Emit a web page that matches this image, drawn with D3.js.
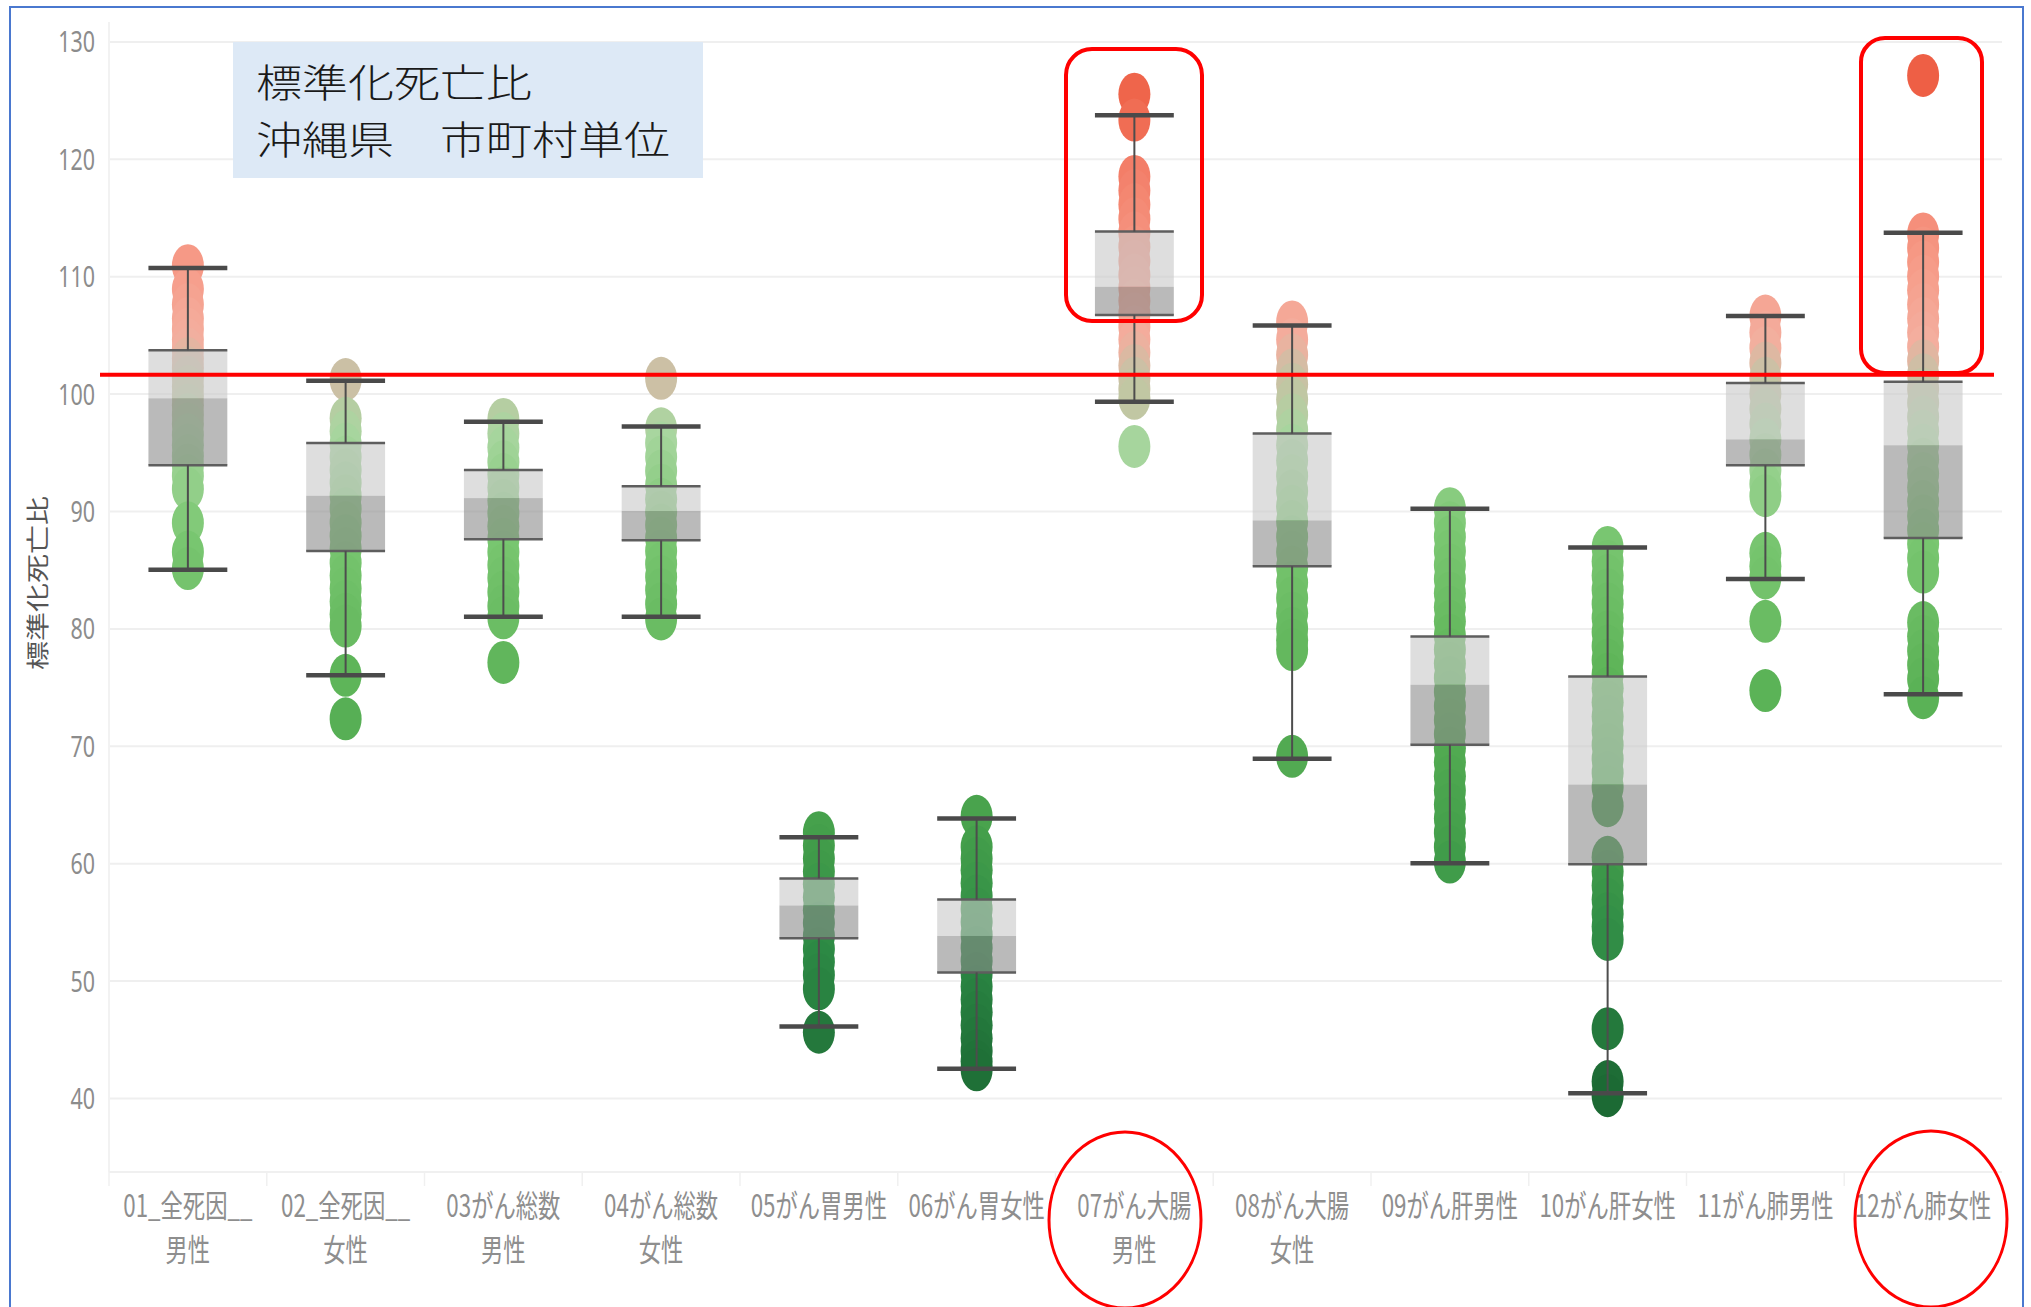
<!DOCTYPE html>
<html>
<head>
<meta charset="utf-8">
<script src="https://cdn.jsdelivr.net/npm/d3@7"></script>
<style>
  body { margin: 0; background: #fff; }
  svg { display: block; }
</style>
</head>
<body>
<svg id="chart" width="2031" height="1307"></svg>
<script>
// categories (x axis), label lines as wrapped in the picture
const categories = ["01_全死因__男性", "02_全死因__女性", "03がん総数男性", "04がん総数女性",
  "05がん胃男性", "06がん胃女性", "07がん大腸男性", "08がん大腸女性",
  "09がん肝男性", "10がん肝女性", "11がん肺男性", "12がん肺女性"];
const labelLines = [["01_全死因__", "男性"], ["02_全死因__", "女性"], ["03がん総数", "男性"], ["04がん総数", "女性"],
  ["05がん胃男性"], ["06がん胃女性"], ["07がん大腸", "男性"], ["08がん大腸", "女性"],
  ["09がん肝男性"], ["10がん肝女性"], ["11がん肺男性"], ["12がん肺女性"]];

// box plot statistics per category
const whiskerHigh = [110.7, 101.1, 97.6, 97.2, 62.2, 63.8, 123.7, 105.8, 90.2, 86.9, 106.6, 113.7];
const q3          = [103.7, 95.8, 93.5, 92.1, 58.7, 56.9, 113.8, 96.6, 79.3, 75.9, 100.9, 101.0];
const median      = [99.6, 91.3, 91.1, 90.0, 56.4, 53.8, 109.1, 89.2, 75.2, 66.7, 96.1, 95.6];
const q1          = [93.9, 86.6, 87.6, 87.5, 53.6, 50.7, 106.7, 85.3, 70.1, 59.9, 93.9, 87.7];
const whiskerLow  = [85.0, 76.0, 81.0, 81.0, 46.1, 42.5, 99.3, 68.9, 60.0, 40.4, 84.2, 74.4];

// municipality values (standardized mortality ratio)
const smr01 = [110.9, 108.9, 107.6, 106.4, 105.5, 104.6, 103.8, 103.0, 102.2, 101.4, 100.6, 99.8, 99.0, 98.2, 97.4, 96.5, 95.6, 94.7, 93.9, 93.0, 91.9, 89.0, 86.5, 85.1];
const smr02 = [101.2, 97.9, 96.8, 95.7, 94.6, 93.5, 92.4, 91.3, 90.2, 89.0, 87.9, 86.8, 85.6, 84.5, 83.4, 82.3, 81.2, 80.2, 76.0, 72.3];
const smr03 = [97.8, 96.6, 95.4, 94.2, 93.1, 92.0, 90.9, 89.8, 88.7, 87.6, 86.5, 85.4, 84.3, 83.1, 81.9, 80.9, 77.1];
const smr04 = [101.3, 97.0, 95.8, 94.6, 93.4, 92.2, 91.0, 89.9, 88.8, 87.7, 86.6, 85.5, 84.4, 83.3, 82.1, 80.8];
const smr05 = [62.6, 61.5, 60.4, 59.3, 58.2, 57.1, 56.0, 54.9, 53.8, 52.7, 51.6, 50.5, 49.3, 45.6];
const smr06 = [64.0, 61.4, 60.4, 59.4, 58.3, 57.2, 56.1, 55.0, 53.9, 52.8, 51.7, 50.6, 49.5, 48.4, 47.3, 46.2, 45.1, 44.0, 43.1, 42.4];
const smr07 = [125.5, 123.3, 118.5, 117.3, 116.1, 114.9, 113.7, 112.5, 111.3, 110.1, 109.0, 107.9, 106.8, 105.7, 104.6, 103.5, 102.4, 101.3, 100.4, 99.6, 95.5];
const smr08 = [106.1, 104.6, 103.3, 102.0, 100.8, 99.5, 98.2, 96.9, 95.6, 94.3, 93.0, 91.7, 90.4, 89.1, 87.8, 86.5, 85.2, 83.9, 82.6, 81.3, 80.0, 79.0, 78.2, 69.1];
const smr09 = [90.2, 89.0, 87.8, 86.6, 85.4, 84.2, 83.0, 81.8, 80.6, 79.4, 78.2, 77.0, 75.8, 74.6, 73.4, 72.2, 71.0, 69.8, 68.6, 67.4, 66.2, 65.0, 63.8, 62.6, 61.4, 60.1];
const smr10 = [86.9, 85.7, 84.5, 83.3, 82.1, 80.9, 79.7, 78.5, 77.3, 76.1, 74.9, 73.7, 72.5, 71.3, 70.1, 68.9, 67.7, 66.5, 64.9, 60.5, 59.3, 58.1, 56.9, 55.7, 54.6, 53.5, 45.9, 41.4, 40.2];
const smr11 = [106.6, 105.2, 103.9, 102.6, 101.3, 100.0, 98.7, 97.4, 96.1, 94.8, 93.5, 92.3, 91.3, 86.4, 85.3, 84.3, 80.6, 74.7];
const smr12 = [127.1, 113.6, 112.4, 111.2, 110.0, 108.8, 107.6, 106.4, 105.2, 104.0, 102.8, 101.6, 100.4, 99.2, 98.0, 96.8, 95.6, 94.4, 93.2, 92.0, 90.8, 89.6, 88.4, 87.2, 86.0, 84.8, 80.5, 79.3, 78.1, 76.9, 75.7, 74.1];
const smrByCategory = [smr01, smr02, smr03, smr04, smr05, smr06, smr07, smr08, smr09, smr10, smr11, smr12];

const yTicks = [40, 50, 60, 70, 80, 90, 100, 110, 120, 130];
const referenceLine = 101.6;

const titleLines = ["標準化死亡比", "沖縄県　市町村単位"];
const yTitle = "標準化死亡比";

// colour ramp green -> beige -> red
const colorStops = [40, 52, 62, 75, 88, 96, 101.5, 104, 110, 118, 127];
const colorRange = ["#1c6934", "#2d8a45", "#45a04b", "#5cb357", "#7cc873", "#a9d6a0",
  "#cdbfa5", "#f4ae9e", "#f69c89", "#f3806a", "#ee5f45"];

const svg = d3.select("#chart");
const W = 2031, H = 1307;
const left = 109, right = 2002, plotBottom = 1172;

const x = d3.scaleBand().domain(categories).range([left, right]);
const y = d3.scaleLinear().domain([40, 130]).range([1098, 41.4]);
const color = d3.scaleLinear().domain(colorStops).range(colorRange);
const boxW = x.bandwidth() * 0.5;
const cx = c => x(c) + x.bandwidth() / 2;

svg.append("rect").attr("width", W).attr("height", H).attr("fill", "#fff");

// gridlines + y tick labels
const yAxis = svg.append("g")
  .attr("transform", `translate(${left},0)`)
  .call(d3.axisLeft(y).tickValues(yTicks).tickSizeInner(-(right - left)).tickSizeOuter(0).tickPadding(0));
yAxis.select(".domain").remove();
yAxis.selectAll(".tick line").attr("stroke", "#efefef").attr("stroke-width", 2);
yAxis.selectAll(".tick text")
  .attr("x", -19).attr("dy", "0.36em")
  .attr("transform", "scale(0.74,1)")
  .attr("fill", "#8c8c8c")
  .style("font-family", "'Noto Sans', 'Open Sans', sans-serif")
  .style("font-size", "29px");

// faint frame of the pane
svg.append("line").attr("x1", left).attr("x2", left).attr("y1", 22).attr("y2", plotBottom)
  .attr("stroke", "#f2f2f2").attr("stroke-width", 2);
svg.append("line").attr("x1", left).attr("x2", right).attr("y1", plotBottom).attr("y2", plotBottom)
  .attr("stroke", "#f0f0f0").attr("stroke-width", 2);
svg.append("g").selectAll("line").data(categories).join("line")
  .attr("x1", d => x(d)).attr("x2", d => x(d))
  .attr("y1", plotBottom).attr("y2", plotBottom + 14)
  .attr("stroke", "#f0f0f0").attr("stroke-width", 1.5);

// dots
const dotRows = [];
categories.forEach((c, i) => smrByCategory[i].forEach(v => dotRows.push({ c, v })));
svg.append("g").selectAll("ellipse").data(dotRows).join("ellipse")
  .attr("cx", d => cx(d.c))
  .attr("cy", d => y(d.v))
  .attr("rx", 16).attr("ry", 21.5)
  .attr("fill", d => color(d.v));

// boxes
const boxes = categories.map((c, i) => ({
  c, hi: whiskerHigh[i], q3: q3[i], med: median[i], q1: q1[i], lo: whiskerLow[i]
}));
const gBox = svg.append("g");
gBox.selectAll("rect.upper").data(boxes).join("rect").attr("class", "upper")
  .attr("x", d => cx(d.c) - boxW / 2).attr("width", boxW)
  .attr("y", d => y(d.q3)).attr("height", d => y(d.med) - y(d.q3))
  .attr("fill", "#c8c8c8").attr("fill-opacity", 0.6);
gBox.selectAll("rect.lower").data(boxes).join("rect").attr("class", "lower")
  .attr("x", d => cx(d.c) - boxW / 2).attr("width", boxW)
  .attr("y", d => y(d.med)).attr("height", d => y(d.q1) - y(d.med))
  .attr("fill", "#8c8c8c").attr("fill-opacity", 0.6);

// box edges
["q3", "q1"].forEach(k => {
  gBox.selectAll("line.edge-" + k).data(boxes).join("line").attr("class", "edge-" + k)
    .attr("x1", d => cx(d.c) - boxW / 2).attr("x2", d => cx(d.c) + boxW / 2)
    .attr("y1", d => y(d[k])).attr("y2", d => y(d[k]))
    .attr("stroke", "#5e5e5e").attr("stroke-width", 2.5);
});
// whisker stems
gBox.selectAll("line.stem-hi").data(boxes).join("line").attr("class", "stem-hi")
  .attr("x1", d => cx(d.c)).attr("x2", d => cx(d.c))
  .attr("y1", d => y(d.hi)).attr("y2", d => y(d.q3))
  .attr("stroke", "#4d4d4d").attr("stroke-width", 2);
gBox.selectAll("line.stem-lo").data(boxes).join("line").attr("class", "stem-lo")
  .attr("x1", d => cx(d.c)).attr("x2", d => cx(d.c))
  .attr("y1", d => y(d.q1)).attr("y2", d => y(d.lo))
  .attr("stroke", "#4d4d4d").attr("stroke-width", 2);
// whisker caps
["hi", "lo"].forEach(k => {
  gBox.selectAll("line.cap-" + k).data(boxes).join("line").attr("class", "cap-" + k)
    .attr("x1", d => cx(d.c) - boxW / 2).attr("x2", d => cx(d.c) + boxW / 2)
    .attr("y1", d => y(d[k])).attr("y2", d => y(d[k]))
    .attr("stroke", "#4a4a4a").attr("stroke-width", 4.5);
});

// category labels
const gLab = svg.append("g")
  .style("font-family", "'Noto Sans CJK JP', sans-serif")
  .style("font-size", "31px")
  .attr("fill", "#8e8e8e");
categories.forEach((c, i) => {
  labelLines[i].forEach((t, j) => {
    gLab.append("text")
      .attr("transform", `translate(${cx(c)},${1217 + j * 44}) scale(0.72,1)`)
      .attr("text-anchor", "middle")
      .text(t);
  });
});

// y axis title
svg.append("text")
  .attr("transform", "translate(36,583) rotate(-90) scale(1.26,1)")
  .attr("text-anchor", "middle").attr("dominant-baseline", "central")
  .style("font-family", "'Noto Sans CJK JP', sans-serif")
  .style("font-size", "23px")
  .attr("fill", "#555")
  .text(yTitle);

// reference line (red)
svg.append("line")
  .attr("x1", 100).attr("x2", 1994)
  .attr("y1", y(referenceLine)).attr("y2", y(referenceLine))
  .attr("stroke", "#ff0000").attr("stroke-width", 4);

// highlight frames
const hl = svg.append("g").attr("fill", "none").attr("stroke", "#ff0000").attr("stroke-width", 4);
hl.append("rect").attr("x", 1066).attr("y", 49).attr("width", 136).attr("height", 272).attr("rx", 26);
hl.append("rect").attr("x", 1861).attr("y", 38).attr("width", 121).attr("height", 335).attr("rx", 24);
hl.append("ellipse").attr("cx", 1125).attr("cy", 1220).attr("rx", 76).attr("ry", 88).attr("stroke-width", 3);
hl.append("ellipse").attr("cx", 1931).attr("cy", 1219).attr("rx", 76).attr("ry", 88).attr("stroke-width", 3);

// title box
svg.append("rect").attr("x", 233).attr("y", 42).attr("width", 470).attr("height", 136).attr("fill", "#dde9f6");
const gTitle = svg.append("g")
  .style("font-family", "'Noto Sans CJK JP', sans-serif")
  .style("font-size", "39px").style("font-weight", 300)
  .attr("fill", "#1a1a1a");
titleLines.forEach((t, j) => {
  gTitle.append("text")
    .attr("transform", `translate(256,${97 + j * 57}) scale(1.18,1)`)
    .text(t);
});

// outer blue frame
svg.append("rect").attr("x", 10).attr("y", 7).attr("width", 2013).attr("height", 1330)
  .attr("fill", "none").attr("stroke", "#4a78cf").attr("stroke-width", 2);
</script>
</body>
</html>
